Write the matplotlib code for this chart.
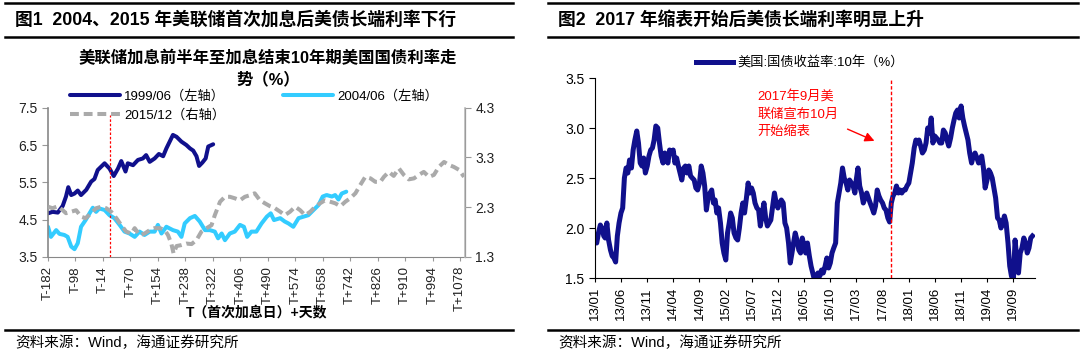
import numpy as np
import pandas as pd
import matplotlib
matplotlib.use('Agg')
import matplotlib.pyplot as plt
from matplotlib.lines import Line2D

plt.rcParams['font.family'] = ['Liberation Sans', 'Noto Sans CJK SC']
plt.rcParams['axes.unicode_minus'] = False

# ---------------- 图1 data: days relative to first hike (T) ----------------
days_1999 = [-182, -168, -152, -137, -127, -120, -111, -101, -91, -81, -65, -50, -40, -30, -9,
             6, 19, 32, 42, 55, 62, 78, 93, 108, 118, 129, 144, 157, 170, 180, 190, 200, 211,
             226, 241, 252, 262, 272, 280, 290, 300, 308, 323]
rate_1999 = [4.67, 4.71, 4.69, 4.87, 5.12, 5.37, 5.16, 5.20, 5.28, 5.16, 5.30, 5.52, 5.59, 5.83, 6.01,
             5.87, 5.67, 5.87, 6.07, 5.79, 6.01, 5.96, 6.10, 6.14, 6.23, 6.05, 6.14, 6.26, 6.20, 6.41,
             6.59, 6.77, 6.72, 6.59, 6.50, 6.41, 6.35, 6.20, 5.94, 6.03, 6.14, 6.46, 6.52]

days_2004 = [-182, -173, -157, -147, -132, -122, -111, -101, -91, -81, -67, -55, -45, -35, -25, -9,
             6, 21, 37, 52, 67, 83, 98, 113, 129, 144, 154, 165, 180, 200, 215, 226, 236, 252, 267,
             282, 298, 313, 328, 338, 349, 359, 374, 389, 405, 417, 427, 440, 455, 471, 487, 499,
             509, 528, 542, 553, 568, 584, 599, 614, 630, 645, 658, 670, 686, 696, 706, 716, 730]
rate_2004 = [4.31, 4.04, 4.22, 4.12, 4.09, 4.04, 3.78, 3.71, 3.87, 4.31, 4.49, 4.67, 4.82, 4.71, 4.80, 4.76,
             4.62, 4.54, 4.36, 4.18, 4.13, 4.04, 4.18, 4.09, 4.18, 4.18, 4.36, 4.13, 4.31, 4.22, 4.18, 4.04,
             4.40, 4.54, 4.60, 4.45, 4.22, 4.22, 4.18, 4.00, 4.13, 3.95, 4.13, 4.18, 4.36, 4.31, 4.04, 4.18,
             4.18, 4.40, 4.58, 4.67, 4.49, 4.54, 4.45, 4.40, 4.31, 4.54, 4.58, 4.62, 4.76, 4.89, 5.12, 5.16,
             5.12, 5.16, 5.04, 5.20, 5.25]

days_2015 = [-182, -168, -152, -137, -127, -111, -96, -81, -67, -50, -35, -19, -4, 11, 27, 42, 57, 73,
             83, 98, 113, 129, 144, 160, 175, 185, 195, 202, 211, 226, 241, 257, 272, 287, 303, 318,
             328, 344, 359, 374, 389, 405, 420, 435, 450, 466, 481, 497, 512, 528, 542, 558, 574,
             589, 604, 620, 635, 650, 665, 681, 696, 712, 727, 742, 758, 773, 788, 804, 819, 834,
             845, 860, 875, 891, 906, 921, 937, 952, 967, 983, 998, 1013, 1029, 1044, 1059, 1075, 1090]
rate_2015 = [2.31, 2.28, 2.32, 2.24, 2.18, 2.21, 2.24, 2.11, 2.08, 2.18, 2.28, 2.31, 2.28, 2.21, 2.08, 1.94,
             1.81, 1.77, 1.88, 1.74, 1.77, 1.84, 1.88, 1.88, 1.84, 1.74, 1.57, 1.37, 1.52, 1.54, 1.57, 1.56,
             1.64, 1.81, 1.88, 1.94, 2.14, 2.41, 2.51, 2.51, 2.48, 2.44, 2.51, 2.54, 2.58, 2.44, 2.38, 2.32,
             2.28, 2.21, 2.14, 2.21, 2.31, 2.24, 2.14, 2.21, 2.31, 2.38, 2.44, 2.41, 2.38, 2.32, 2.41, 2.48,
             2.58, 2.75, 2.91, 2.88, 2.81, 2.81, 2.91, 3.01, 2.93, 3.08, 2.95, 2.86, 2.88, 2.95, 3.01, 2.91,
             2.95, 3.11, 3.21, 3.15, 3.11, 3.05, 2.91]

xticks_1 = list(range(-182, 1079, 84))
xticklabels_1 = [f'T{d:+d}' for d in xticks_1]

# ---------------- 图2 data: US 10Y yield, 3 readings per month ----------------
y2013 = [1.90, 1.85, 1.95, 2.03, 2.00, 1.92, 1.90, 2.05, 1.88, 1.78, 1.72, 1.70,
         1.66, 1.92, 2.05, 2.15, 2.20, 2.50, 2.60, 2.55, 2.68, 2.60, 2.78, 2.88,
         2.97, 2.85, 2.65, 2.62, 2.70, 2.55, 2.62, 2.72, 2.78, 2.80, 2.88, 3.02]
y2014 = [3.00, 2.85, 2.72, 2.65, 2.75, 2.70, 2.65, 2.78, 2.75, 2.78, 2.65, 2.70,
         2.62, 2.55, 2.48, 2.60, 2.62, 2.55, 2.62, 2.52, 2.50, 2.48, 2.40, 2.38,
         2.45, 2.62, 2.55, 2.42, 2.18, 2.30, 2.35, 2.38, 2.25, 2.28, 2.15, 2.20]
y2015 = [2.05, 1.85, 1.75, 1.68, 1.95, 2.05, 2.15, 2.10, 1.95, 1.90, 1.88, 2.00,
         2.15, 2.25, 2.15, 2.30, 2.45, 2.35, 2.40, 2.35, 2.25, 2.20, 2.18, 2.02,
         2.15, 2.25, 2.10, 2.02, 2.05, 2.08, 2.22, 2.35, 2.25, 2.20, 2.25, 2.28]
y2016 = [2.25, 2.05, 2.00, 1.85, 1.65, 1.75, 1.85, 1.95, 1.88, 1.78, 1.75, 1.90,
         1.82, 1.75, 1.85, 1.72, 1.62, 1.55, 1.48, 1.52, 1.55, 1.52, 1.58, 1.55,
         1.62, 1.70, 1.60, 1.65, 1.75, 1.80, 1.85, 2.25, 2.35, 2.45, 2.60, 2.50]
y2017 = [2.45, 2.38, 2.48, 2.45, 2.42, 2.35, 2.48, 2.60, 2.42, 2.35, 2.25, 2.30,
         2.35, 2.30, 2.25, 2.20, 2.15, 2.22, 2.38, 2.32, 2.28, 2.25, 2.20, 2.18,
         2.10, 2.06, 2.25, 2.32, 2.35, 2.42, 2.35, 2.38, 2.35, 2.38, 2.38, 2.42]
y2018 = [2.45, 2.55, 2.65, 2.80, 2.88, 2.85, 2.88, 2.82, 2.75, 2.78, 2.85, 3.00,
         2.95, 3.10, 2.85, 2.92, 2.90, 2.88, 2.85, 2.85, 2.98, 2.95, 2.88, 2.82,
         2.90, 3.00, 3.08, 3.15, 3.18, 3.10, 3.22, 3.10, 3.02, 2.95, 2.88, 2.75]
y2019 = [2.65, 2.72, 2.75, 2.70, 2.65, 2.70, 2.72, 2.60, 2.40, 2.48, 2.58, 2.55,
         2.50, 2.40, 2.30, 2.10, 2.08, 2.00, 2.05, 2.12, 2.05, 1.85, 1.62, 1.52,
         1.47, 1.88, 1.70, 1.55, 1.75, 1.80, 1.90, 1.85, 1.75, 1.80, 1.90, 1.92]
yield_10y = y2013 + y2014 + y2015 + y2016 + y2017 + y2018 + y2019
months = pd.date_range('2013-01-01', '2019-12-01', freq='MS')
dates_10y = [m + pd.Timedelta(days=d) for m in months for d in (0, 10, 20)]
xticks_2 = pd.date_range('2013-01-01', '2019-09-01', freq='5MS')

navy = '#10108C'
skyblue = '#33CCFF'
gray = '#AAAAAA'

fig = plt.figure(figsize=(10.8, 3.55), dpi=100)
W, H = 1080, 355

def hline(x0, x1, y, lw=2.0):
    fig.add_artist(Line2D([x0 / W, x1 / W], [1 - y / H, 1 - y / H], color='black', lw=lw,
                          transform=fig.transFigure))

# ---------- panel rules, titles, sources ----------
for x0, x1 in [(5, 513), (548, 1078)]:
    hline(x0, x1, 3, 1.8)
    hline(x0, x1, 37, 1.8)
    hline(x0, x1, 330, 1.8)

fig.text(15 / W, 1 - 20 / H, '图1  2004、2015 年美联储首次加息后美债长端利率下行',
         fontsize=12.8, fontweight='bold', va='center', ha='left')
fig.text(558 / W, 1 - 20 / H, '图2  2017 年缩表开始后美债长端利率明显上升',
         fontsize=12.8, fontweight='bold', va='center', ha='left')
fig.text(15 / W, 1 - 343 / H, '资料来源：Wind，海通证券研究所', fontsize=10.5, va='center', ha='left')
fig.text(558 / W, 1 - 343 / H, '资料来源：Wind，海通证券研究所', fontsize=10.5, va='center', ha='left')

# ---------- 图1 ----------
ax1 = fig.add_axes([48 / W, 1 - 257 / H, (465 - 48) / W, (257 - 107.7) / H])
ax1b = ax1.twinx()
l1, = ax1.plot(days_1999, rate_1999, color=navy, lw=2.9, solid_capstyle='round')
l2, = ax1.plot(days_2004, rate_2004, color=skyblue, lw=2.9, solid_capstyle='round')
l3, = ax1b.plot(days_2015, rate_2015, color=gray, lw=2.9, ls=(0, (2.2, 1.2)))
ax1.vlines(8, 3.5, 7.3, color='red', lw=0.9, ls=(0, (2, 1.5)))
ax1.set_xlim(-182, 1093)
ax1.set_ylim(3.5, 7.5)
ax1b.set_ylim(1.3, 4.3)
ax1.set_yticks([3.5, 4.5, 5.5, 6.5, 7.5])
ax1b.set_yticks([1.3, 2.3, 3.3, 4.3])
ax1.set_xticks(xticks_1)
ax1.set_xticklabels(xticklabels_1, rotation=90, fontsize=9.5)
for a in (ax1, ax1b):
    a.spines['top'].set_visible(False)
    a.tick_params(axis='y', labelsize=10, length=4, width=0.8, colors='#999999', labelcolor='#222222')
ax1.tick_params(axis='x', length=3, width=0.8, colors='#999999', labelcolor='#222222')
ax1.spines['left'].set_color('#888888')
ax1.spines['bottom'].set_color('#888888')
ax1b.spines['left'].set_visible(False)
ax1b.spines['bottom'].set_visible(False)
ax1b.spines['right'].set_color('#BBBBBB')
ax1b.spines['right'].set_linewidth(1.2)
ax1.spines['left'].set_linewidth(1.2)

fig.text(268 / W, 1 - 58 / H, '美联储加息前半年至加息结束10年期美国国债利率走',
         fontsize=11.8, fontweight='bold', ha='center', va='center')
fig.text(268 / W, 1 - 79 / H, '势（%）', fontsize=11.8, fontweight='bold', ha='center', va='center')
fig.legend([l1, l3, l2], ['1999/06（左轴）', '2015/12（右轴）', '2004/06（左轴）'],
           ncol=2, loc='upper left', bbox_to_anchor=(70 / W, 1 - 90 / H), frameon=False,
           fontsize=9.5, handlelength=3.8, handletextpad=0.3, columnspacing=4.4,
           labelspacing=0.45, borderaxespad=0, borderpad=0)
fig.text(257 / W, 1 - 312 / H, 'T（首次加息日）+天数', fontsize=10, fontweight='bold',
         ha='center', va='center')

# ---------- 图2 ----------
ax2 = fig.add_axes([595 / W, 1 - 278 / H, (1035 - 595) / W, (278 - 78) / H])
ln, = ax2.plot(dates_10y, yield_10y, color=navy, lw=3.6, solid_joinstyle='round')
ax2.axvline(pd.Timestamp('2017-09-20'), color='red', lw=1.0, ls=(0, (2.5, 1.5)))
ax2.set_ylim(1.5, 3.5)
ax2.set_yticks([1.5, 2.0, 2.5, 3.0, 3.5])
ax2.set_yticklabels(['1.5', '2.0', '2.5', '3.0', '3.5'])
ax2.set_xlim(pd.Timestamp('2013-01-01'), pd.Timestamp('2020-01-05'))
ax2.set_xticks(xticks_2)
ax2.set_xticklabels([d.strftime('%y/%m') for d in xticks_2], rotation=90, fontsize=9.5)
ax2.tick_params(axis='y', labelsize=10, length=4, width=0.8)
ax2.tick_params(axis='x', length=3, width=0.8)
ax2.spines['top'].set_visible(False)
ax2.spines['right'].set_visible(False)

fig.legend([ln], ['美国:国债收益率:10年（%）'], loc='center', bbox_to_anchor=(800 / W, 1 - 63 / H),
           frameon=False, fontsize=9.5, handlelength=2.8, handletextpad=0.3, borderpad=0)
fig.text(757 / W, 1 - 114 / H, '2017年9月美\n联储宣布10月\n开始缩表', color='red', fontsize=9.5,
         ha='left', va='center', linespacing=1.5)
ax2.annotate('', xy=(877 / W, 1 - 142 / H), xytext=(845 / W, 1 - 128 / H),
             xycoords='figure fraction', textcoords='figure fraction',
             arrowprops=dict(arrowstyle='-|>', color='red', lw=1.0, mutation_scale=14))

fig.savefig('out.png', dpi=100)
